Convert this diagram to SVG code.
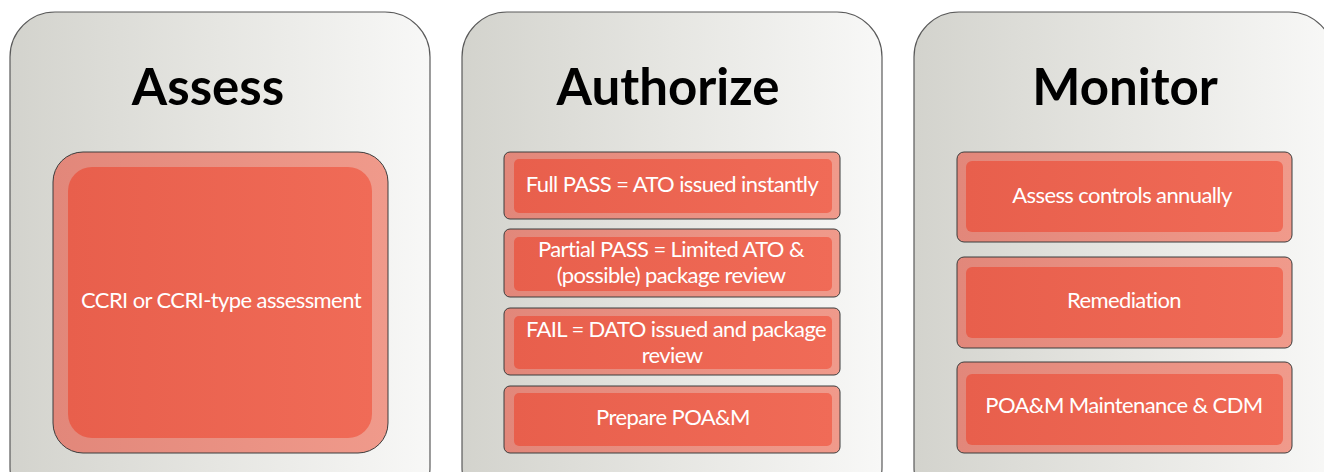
<svg xmlns="http://www.w3.org/2000/svg" width="1324" height="472" viewBox="0 0 1324 472">
  <defs>
    <linearGradient id="gPanel" x1="0" y1="0" x2="1" y2="0">
      <stop offset="0" stop-color="#d3d3cd"/>
      <stop offset="0.5" stop-color="#e6e6e2"/>
      <stop offset="1" stop-color="#f8f8f7"/>
    </linearGradient>
    <linearGradient id="gOuter" x1="0" y1="0" x2="1" y2="0">
      <stop offset="0" stop-color="#e2877a"/>
      <stop offset="1" stop-color="#f09a8b"/>
    </linearGradient>
    <linearGradient id="gInner" x1="0" y1="0" x2="1" y2="0">
      <stop offset="0" stop-color="#e85f4c"/>
      <stop offset="1" stop-color="#f06b57"/>
    </linearGradient>
  </defs>
  <style>
    .panel { fill: url(#gPanel); stroke: #5a5a5a; stroke-width: 1.2; }
    .outer { fill: url(#gOuter); stroke: #3c3c3c; stroke-width: 1; }
    .inner { fill: url(#gInner); }
    .title { font-family: Lato, "Open Sans", sans-serif; font-weight: 700; font-size: 51px; fill: #000; text-anchor: middle; }
    .lbl { font-family: Lato, "Open Sans", sans-serif; font-size: 22px; fill: #ffffff; text-anchor: middle; letter-spacing: -0.6px; }
  </style>

  <g id="panel-assess">
    <rect class="panel" x="10" y="12" width="420" height="500" rx="45" ry="45"/>
    <text class="title" x="208" y="105">Assess</text>
  </g>
  <g id="panel-authorize">
    <rect class="panel" x="462" y="12" width="420" height="500" rx="45" ry="45"/>
    <text class="title" x="668" y="105">Authorize</text>
  </g>
  <g id="panel-monitor">
    <rect class="panel" x="914" y="12" width="420" height="500" rx="45" ry="45"/>
    <text class="title" x="1125" y="105">Monitor</text>
  </g>

  <g id="node-ccri">
    <rect class="outer" x="53" y="152" width="335" height="301" rx="30" ry="30"/>
    <rect class="inner" x="68" y="167" width="304" height="271" rx="24" ry="24"/>
    <text class="lbl" x="221" y="308">CCRI or CCRI-type assessment</text>
  </g>

  <g id="node-fullpass">
    <rect class="outer" x="504" y="152" width="336" height="67" rx="6" ry="6"/>
    <rect class="inner" x="514" y="159" width="318" height="54" rx="5" ry="5"/>
    <text class="lbl" x="672" y="192">Full PASS = ATO issued instantly</text>
  </g>
  <g id="node-partial">
    <rect class="outer" x="504" y="229" width="336" height="68" rx="6" ry="6"/>
    <rect class="inner" x="514" y="237" width="318" height="54" rx="5" ry="5"/>
    <text class="lbl" x="671" y="257">Partial PASS = Limited ATO &amp;</text>
    <text class="lbl" x="671" y="283">(possible) package review</text>
  </g>
  <g id="node-fail">
    <rect class="outer" x="504" y="308" width="336" height="67" rx="6" ry="6"/>
    <rect class="inner" x="514" y="316" width="318" height="53" rx="5" ry="5"/>
    <text class="lbl" x="676" y="337">FAIL = DATO issued and package</text>
    <text class="lbl" x="672" y="363">review</text>
  </g>
  <g id="node-poam">
    <rect class="outer" x="504" y="386" width="336" height="67" rx="6" ry="6"/>
    <rect class="inner" x="514" y="393" width="318" height="53" rx="5" ry="5"/>
    <text class="lbl" x="673" y="425">Prepare POA&amp;M</text>
  </g>

  <g id="node-annual">
    <rect class="outer" x="957" y="152" width="335" height="90" rx="7" ry="7"/>
    <rect class="inner" x="966" y="161" width="317" height="71" rx="6" ry="6"/>
    <text class="lbl" x="1122" y="203">Assess controls annually</text>
  </g>
  <g id="node-remediation">
    <rect class="outer" x="957" y="257" width="335" height="91" rx="7" ry="7"/>
    <rect class="inner" x="966" y="267" width="317" height="71" rx="6" ry="6"/>
    <text class="lbl" x="1124" y="308">Remediation</text>
  </g>
  <g id="node-cdm">
    <rect class="outer" x="957" y="362" width="335" height="91" rx="7" ry="7"/>
    <rect class="inner" x="966" y="374" width="317" height="71" rx="6" ry="6"/>
    <text class="lbl" x="1124" y="413">POA&amp;M Maintenance &amp; CDM</text>
  </g>

  <g id="connectors"></g>
</svg>
